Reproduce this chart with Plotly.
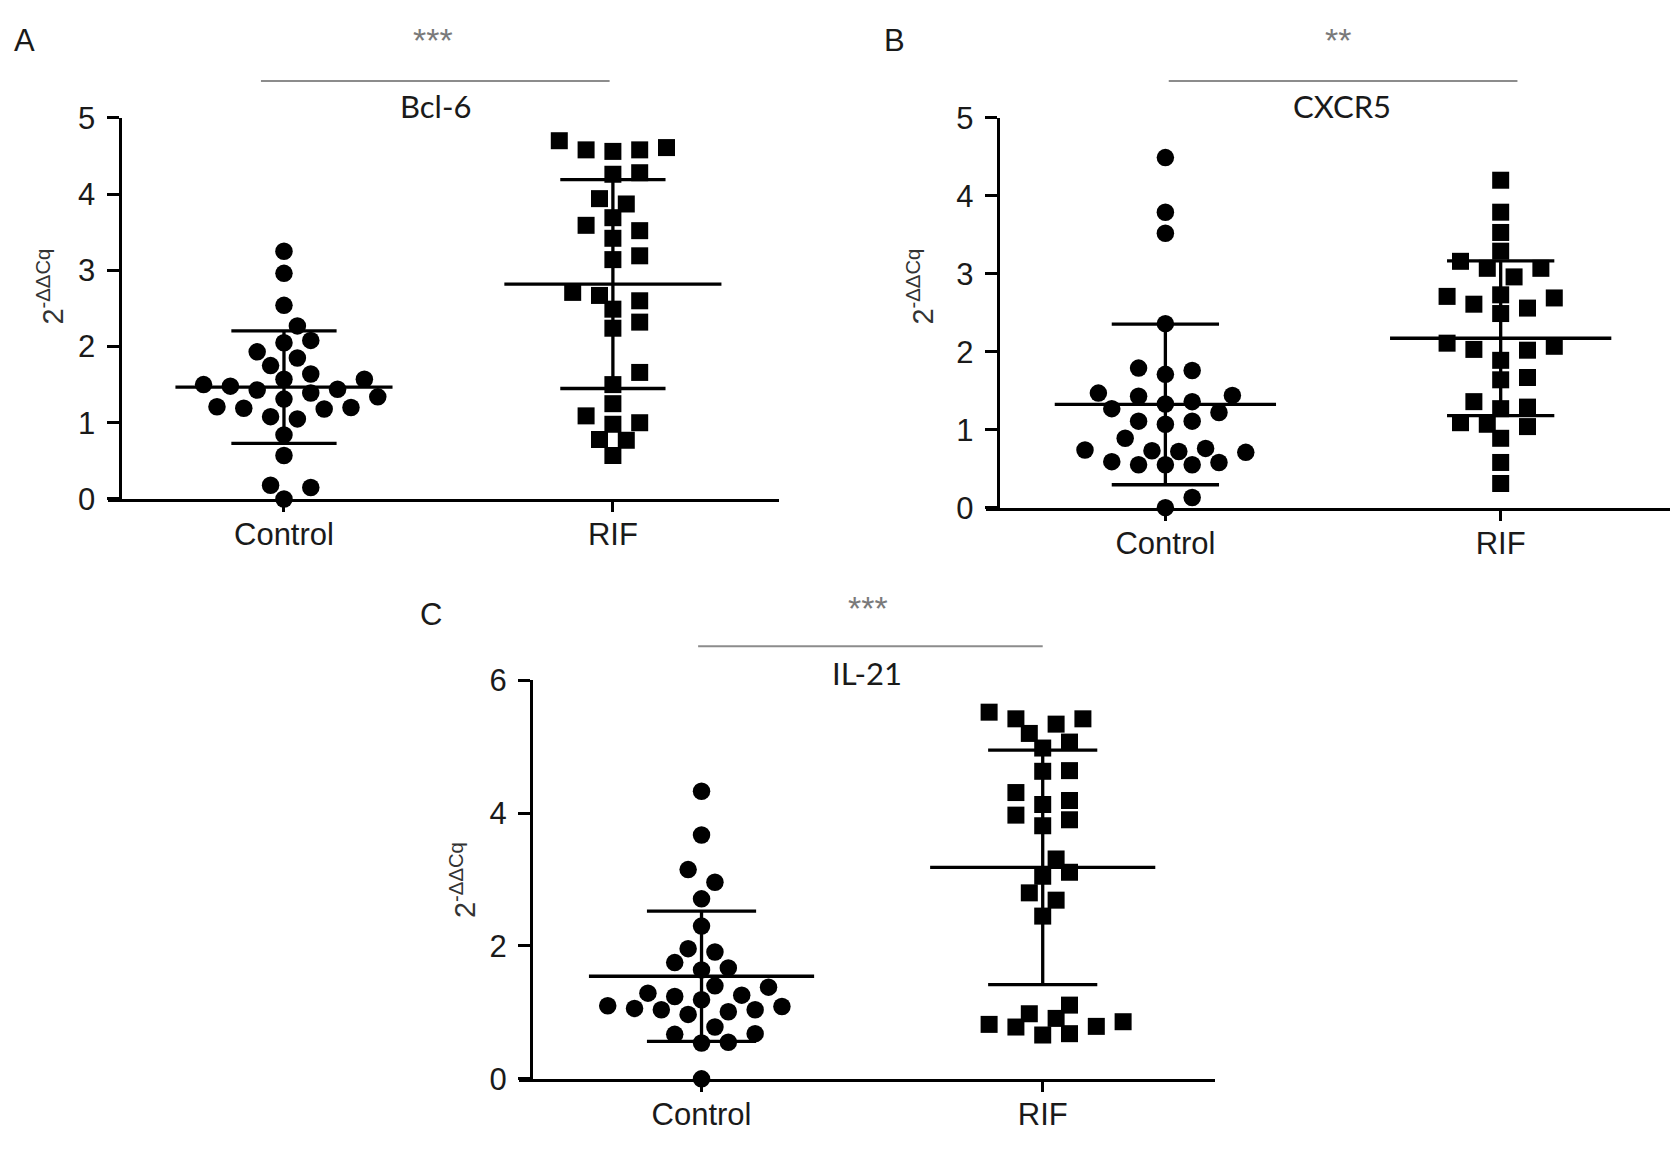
import numpy as np
import plotly.graph_objects as go

# values (2^-ddCq)
groups = ["Control", "RIF"]

bcl6_control = [3.25, 2.96, 2.54, 2.27, 2.08, 2.05, 1.93, 1.85, 1.75, 1.64,
                1.57, 1.57, 1.48, 1.50, 1.43, 1.44, 1.39, 1.34, 1.31, 1.20,
                1.18, 1.19, 1.21, 1.05, 1.08, 0.84, 0.57, 0.18, 0.15, 0.00]
bcl6_rif = [4.70, 4.56, 4.58, 4.58, 4.61, 4.26, 4.28, 3.94, 3.87, 3.69,
            3.59, 3.52, 3.42, 3.19, 3.14, 2.71, 2.67, 2.60, 2.49, 2.32,
            2.24, 1.66, 1.50, 1.25, 1.09, 1.00, 0.98, 0.78, 0.77, 0.57]

cxcr5_control = [4.49, 3.79, 3.52, 2.36, 1.79, 1.71, 1.76, 1.44, 1.36, 1.27,
                 1.22, 1.33, 1.43, 1.47, 1.11, 1.07, 1.11, 0.89, 0.76, 0.71,
                 0.72, 0.74, 0.73, 0.58, 0.55, 0.55, 0.55, 0.59, 0.13, 0.00]
cxcr5_rif = [4.20, 3.79, 3.53, 3.29, 3.16, 3.07, 3.07, 2.96, 2.73, 2.69,
             2.71, 2.56, 2.61, 2.49, 2.11, 2.07, 2.02, 2.03, 1.89, 1.67,
             1.64, 1.36, 1.29, 1.27, 1.09, 1.04, 1.07, 0.89, 0.58, 0.31]

il21_control = [4.33, 3.67, 3.15, 2.96, 2.71, 2.30, 1.96, 1.91, 1.75, 1.67,
                1.64, 1.40, 1.38, 1.29, 1.24, 1.26, 1.19, 1.10, 1.06, 1.04,
                0.97, 1.01, 1.04, 1.09, 0.78, 0.68, 0.67, 0.55, 0.54, 0.00]
il21_rif = [5.42, 5.52, 5.34, 5.42, 5.20, 4.98, 5.07, 4.63, 4.64, 4.31,
            4.19, 4.13, 3.97, 3.81, 3.90, 3.31, 3.11, 3.05, 2.80, 2.69,
            2.45, 1.11, 0.91, 0.82, 0.78, 0.66, 0.68, 0.79, 0.86, 0.98]

genes = ["Bcl-6", "CXCR5", "IL-21"]
stars = ["***", "**", "***"]
panel_letters = ["A", "B", "C"]
y_max = [5, 5, 6]
y_dtick = [1, 1, 2]

W, H = 1680, 1156
XR = [-0.535, 1.505]

# pixel boxes: x-axis left/right, y top/bottom, plus annotation spots
panels = [
    dict(xl=108, xr=779, yt=104, yb=497, letter=(24, 24), star=(433, 24),
         bar=(-0.07, 0.99, 66), title=(435, 92), ylab=(50, 278)),
    dict(xl=986, xr=1670, yt=104, yb=506, letter=(894, 24), star=(1338, 24),
         bar=(0.01, 1.05, 66), title=(1342, 92), ylab=(920, 278)),
    dict(xl=519, xr=1215, yt=684, yb=1095, letter=(431, 616), star=(868, 609),
         bar=(-0.01, 1.0, 649), title=(867, 676), ylab=(463, 890)),
]

data = [(bcl6_control, bcl6_rif), (cxcr5_control, cxcr5_rif), (il21_control, il21_rif)]

TICK_FONT = "Liberation Sans, Arial, sans-serif"


def px(x, y):
    return x / W, 1 - y / H


def swarm(vals, ppu_x, ppu_y, step=13.4, diam=19):
    # greedy beeswarm on a half-marker grid, like a prism scatter dot plot
    vals = np.asarray(vals, float)
    offs = np.zeros(len(vals))
    placed = []
    cands = [0]
    for k in range(1, 15):
        cands += [k, -k]
    for i in np.argsort(vals):
        y = vals[i] * ppu_y
        for c in cands:
            x = c * step
            if all((x - a) ** 2 + (y - b) ** 2 >= diam ** 2 for a, b in placed):
                offs[i] = x
                placed.append((x, y))
                break
    return offs / ppu_x


fig = go.Figure()
annotations = []
shapes = []

for p, (geo, (ctrl, rif)) in enumerate(zip(panels, data)):
    n = "" if p == 0 else str(p + 1)
    xa, ya = "x" + n, "y" + n
    ppu_x = (geo["xr"] - geo["xl"]) / (XR[1] - XR[0])
    ppu_y = (geo["yb"] - geo["yt"]) / y_max[p]

    for g, (vals, sym, sz) in enumerate([(ctrl, "circle", 17.5), (rif, "square", 17)]):
        offs = swarm(vals, ppu_x, ppu_y)
        fig.add_trace(go.Scatter(
            x=g + offs, y=vals, mode="markers", xaxis=xa, yaxis=ya,
            marker=dict(symbol=sym, size=sz, color="black", line=dict(width=0)),
            cliponaxis=False, showlegend=False, name=groups[g]))

        # mean with SD
        m = np.mean(vals)
        s = np.std(vals, ddof=1)
        lx = [g - 0.33, g + 0.33, None, g, g, None,
              g - 0.16, g + 0.16, None, g - 0.16, g + 0.16]
        ly = [m, m, None, m - s, m + s, None, m - s, m - s, None, m + s, m + s]
        fig.add_trace(go.Scatter(
            x=lx, y=ly, mode="lines", xaxis=xa, yaxis=ya,
            line=dict(color="black", width=3.3), cliponaxis=False,
            showlegend=False, hoverinfo="skip"))

    x0, x1 = geo["xl"] / W, geo["xr"] / W
    y0, y1 = 1 - geo["yb"] / H, 1 - geo["yt"] / H
    yaxis_pos = x0 + (-0.5 - XR[0]) * ppu_x / W

    fig.update_layout({
        "xaxis" + n: dict(domain=[x0, x1], range=XR, anchor=ya,
                          tickvals=[0, 1], ticktext=groups,
                          showline=True, linecolor="black", linewidth=3,
                          ticks="outside", ticklen=10, tickwidth=3, tickcolor="black",
                          showgrid=False, zeroline=False, ticklabelstandoff=-4,
                          tickfont=dict(family=TICK_FONT, size=31, color="#1a1a1a")),
        "yaxis" + n: dict(domain=[y0, y1], range=[0, y_max[p]], anchor="free",
                          position=yaxis_pos, dtick=y_dtick[p], tick0=0,
                          showline=True, linecolor="black", linewidth=3,
                          ticks="outside", ticklen=12, tickwidth=3, tickcolor="black",
                          showgrid=False, zeroline=False, ticklabelstandoff=5,
                          tickfont=dict(family=TICK_FONT, size=31, color="#1a1a1a")),
    })

    # significance bar
    bx0, bx1, by = geo["bar"]
    shapes.append(dict(type="line", xref=xa, yref="paper", x0=bx0, x1=bx1,
                       y0=1 - by / H, y1=1 - by / H,
                       line=dict(color="#8c8c8c", width=2)))

    ax, ay = px(*geo["letter"])
    annotations.append(dict(text=panel_letters[p], x=ax, y=ay, xref="paper", yref="paper",
                            showarrow=False, xanchor="center", yanchor="middle",
                            font=dict(family="Liberation Sans, Arial", size=31, color="#1a1a1a")))
    sx, sy = px(*geo["star"])
    annotations.append(dict(text=stars[p], x=sx, y=sy, xref="paper", yref="paper",
                            showarrow=False, xanchor="center", yanchor="middle",
                            font=dict(family="Liberation Sans, Arial", size=34, color="#7a7a7a")))
    tx, ty = px(*geo["title"])
    annotations.append(dict(text=genes[p], x=tx, y=ty, xref="paper", yref="paper",
                            showarrow=False, xanchor="center", yanchor="middle",
                            font=dict(family="Lato, Open Sans, sans-serif", size=31, color="#1a1a1a")))
    lx_, ly_ = px(*geo["ylab"])
    annotations.append(dict(text="2<sup>-ΔΔCq</sup>", x=lx_, y=ly_, xref="paper", yref="paper",
                            showarrow=False, textangle=-90, xanchor="center", yanchor="middle",
                            font=dict(family="Liberation Sans, Arial", size=29, color="#333333")))

fig.update_layout(
    width=W, height=H, autosize=False,
    margin=dict(l=0, r=0, t=0, b=0),
    paper_bgcolor="white", plot_bgcolor="white",
    annotations=annotations, shapes=shapes,
)

# drop the default page margin so the figure sits at the window's corner
fig.write_html("out.html", config={"displayModeBar": False},
               post_script="document.body.style.margin='0';")
